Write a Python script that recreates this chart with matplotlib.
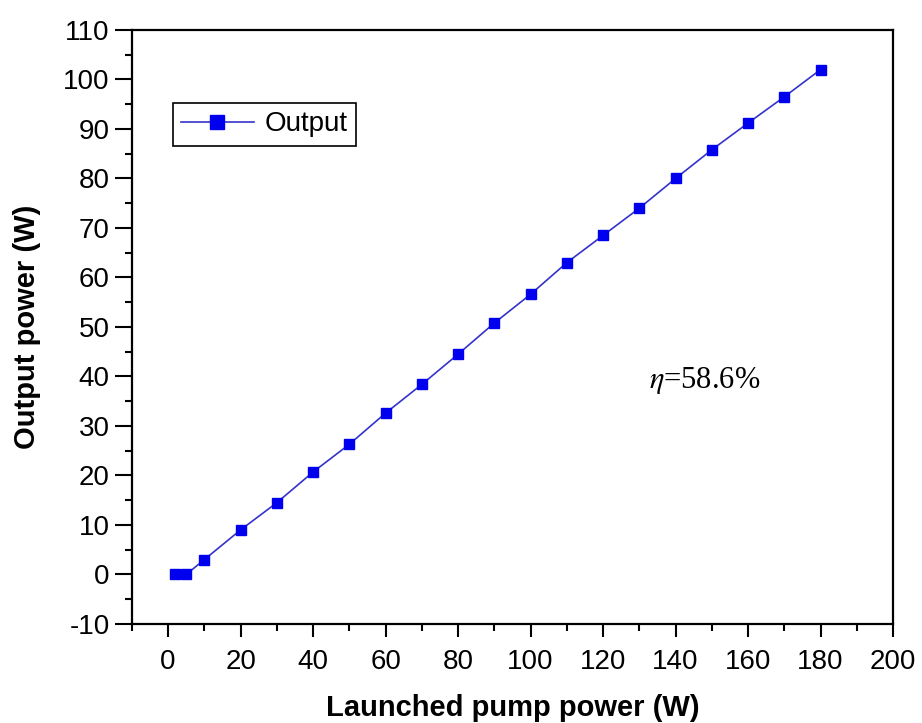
import matplotlib.pyplot as plt
from matplotlib.ticker import MultipleLocator

# launched pump power (W) vs output power (W)
pump = [2, 5, 10, 20, 30, 40, 50, 60, 70, 80, 90, 100, 110, 120, 130, 140, 150, 160, 170, 180]
output = [0, 0, 3.0, 9.0, 14.5, 20.7, 26.3, 32.6, 38.4, 44.5, 50.8, 56.6, 63.0, 68.5,
          74.0, 80.0, 85.8, 91.2, 96.5, 102.0]

plt.rcParams['font.family'] = ['Liberation Sans', 'DejaVu Sans']
plt.rcParams['axes.unicode_minus'] = False

fig = plt.figure(figsize=(9.22, 7.23), dpi=100)
ax = fig.add_axes([0.143, 0.137, 0.8256, 0.8215])

ax.plot(pump, output, color='#3333cc', lw=1.2, marker='s', ms=7.5,
        mfc='#0000ee', mec='#0000ee', label='Output')

ax.set_xlim(-10, 200)
ax.set_ylim(-10, 110)
ax.xaxis.set_major_locator(MultipleLocator(20))
ax.xaxis.set_minor_locator(MultipleLocator(10))
ax.yaxis.set_major_locator(MultipleLocator(10))
ax.yaxis.set_minor_locator(MultipleLocator(5))
ax.tick_params(which='both', direction='out', width=1.5, top=False, right=False)
ax.tick_params(which='major', labelsize=20)
ax.tick_params(axis='x', which='major', length=9, pad=9)
ax.tick_params(axis='y', which='major', length=12, pad=4)
ax.tick_params(which='minor', length=5)
for s in ax.spines.values():
    s.set_linewidth(1.6)

ax.set_xlabel('Launched pump power (W)', fontsize=21, fontweight='bold', labelpad=14)
ax.set_ylabel('Output power (W)', fontsize=21, fontweight='bold', labelpad=16)

ax.text(0.68, 0.41, r'$\eta$=58.6%', transform=ax.transAxes, fontsize=22,
        family='Liberation Serif', math_fontfamily='stix', va='center')

leg = ax.legend(loc='upper left', bbox_to_anchor=(0.054, 0.877), fontsize=20,
                fancybox=False, edgecolor='black', framealpha=1,
                handlelength=2.6, handletextpad=0.4, borderpad=0.3,
                borderaxespad=0, markerscale=1.3)
leg.get_frame().set_linewidth(1.2)

fig.savefig('out.png', dpi=100)
